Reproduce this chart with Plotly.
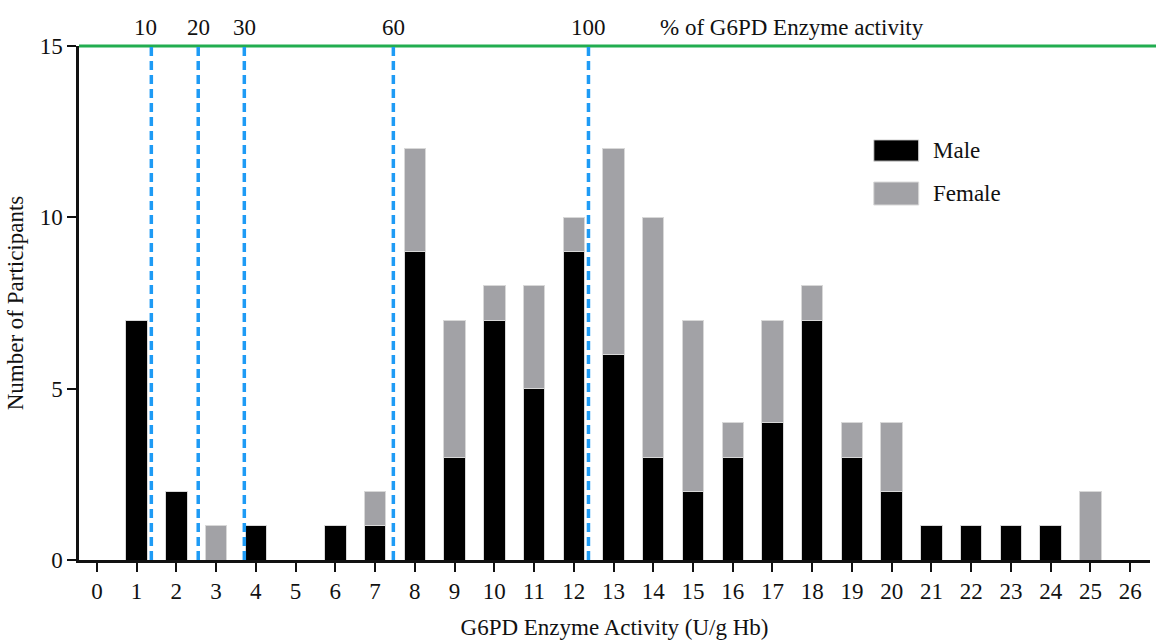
import plotly.graph_objects as go

activity = list(range(0, 27))
male =   [0, 7, 2, 0, 1, 0, 1, 1, 9, 3, 7, 5, 9, 6, 3, 2, 3, 4, 7, 3, 2, 1, 1, 1, 1, 0, 0]
female = [0, 0, 0, 1, 0, 0, 0, 1, 3, 4, 1, 3, 1, 6, 7, 5, 1, 3, 1, 1, 2, 0, 0, 0, 0, 2, 0]

pct_labels = ["10", "20", "30", "60", "100"]
pct_positions = [1.37, 2.55, 3.71, 7.46, 12.37]
pct_label_shift = [-6, 0, 0, 0, 0]

FONT = "Liberation Serif"
FS = 23
fig = go.Figure()
fig.add_trace(go.Bar(x=activity, y=male, name="Male", marker=dict(color="#000000", line=dict(color="#d8d8d8", width=1)), width=0.54))
fig.add_trace(go.Bar(x=activity, y=female, name="Female", marker=dict(color="#a2a2a6", line=dict(color="#d8d8d8", width=1)), width=0.54))

shapes = []
annotations = []
# green 100% line at top (paper ref so it is not clipped)
shapes.append(dict(type="line", xref="paper", yref="paper", x0=0, x1=1.01, y0=1, y1=1,
                   line=dict(color="#22ad50", width=3)))
for lab, pos, sh in zip(pct_labels, pct_positions, pct_label_shift):
    shapes.append(dict(type="line", xref="x", yref="y", x0=pos, x1=pos, y0=0, y1=15,
                       line=dict(color="#1e9bf5", width=3.5, dash="9px,5px")))
    annotations.append(dict(x=pos, y=15, xref="x", yref="y", text=lab, showarrow=False, xshift=sh,
                            yanchor="bottom", yshift=4, font=dict(family=FONT, size=FS, color="#111")))
annotations.append(dict(x=14.13, y=15, xref="x", yref="y", text="% of G6PD Enzyme activity", showarrow=False,
                        xanchor="left", yanchor="bottom", yshift=4, font=dict(family=FONT, size=FS, color="#111")))

# legend drawn manually
legend_items = [("Male", "#000000", 12.26, 11.64), ("Female", "#a2a2a6", 11.03, 10.36)]
for name, col, ytop, ybot in legend_items:
    shapes.append(dict(type="rect", xref="x", yref="y", x0=19.55, x1=20.68, y0=ybot, y1=ytop,
                       fillcolor=col, line=dict(color="#d8d8d8", width=1)))
    annotations.append(dict(x=21.0, y=(ytop + ybot) / 2, xref="x", yref="y", text=name, showarrow=False,
                            xanchor="left", yanchor="middle", font=dict(family=FONT, size=FS, color="#111")))

fig.update_layout(
    barmode="stack",
    width=1156, height=641,
    margin=dict(l=79, r=6, t=46, b=81),
    plot_bgcolor="white", paper_bgcolor="white",
    showlegend=False,
    shapes=shapes, annotations=annotations,
    font=dict(family=FONT, size=FS, color="#111"),
    xaxis=dict(range=[-0.45, 26.5], tickmode="array", tickvals=activity, ticktext=[str(a) for a in activity],
               ticks="outside", ticklen=9, tickwidth=2, tickcolor="#111", showline=True, linecolor="#111",
               linewidth=2.5, showgrid=False, zeroline=False, tickfont=dict(family=FONT, size=FS),
               title=dict(text="G6PD Enzyme Activity (U/g Hb)", font=dict(family=FONT, size=FS), standoff=16)),
    yaxis=dict(range=[0, 15], tickvals=[0, 5, 10, 15], ticks="outside", ticklen=9, tickwidth=2, tickcolor="#111",
               showline=True, linecolor="#111", linewidth=2.5, showgrid=False, zeroline=False,
               tickfont=dict(family=FONT, size=FS),
               title=dict(text="Number of Participants", font=dict(family=FONT, size=FS), standoff=10)),
)
fig.write_html("out.html")
